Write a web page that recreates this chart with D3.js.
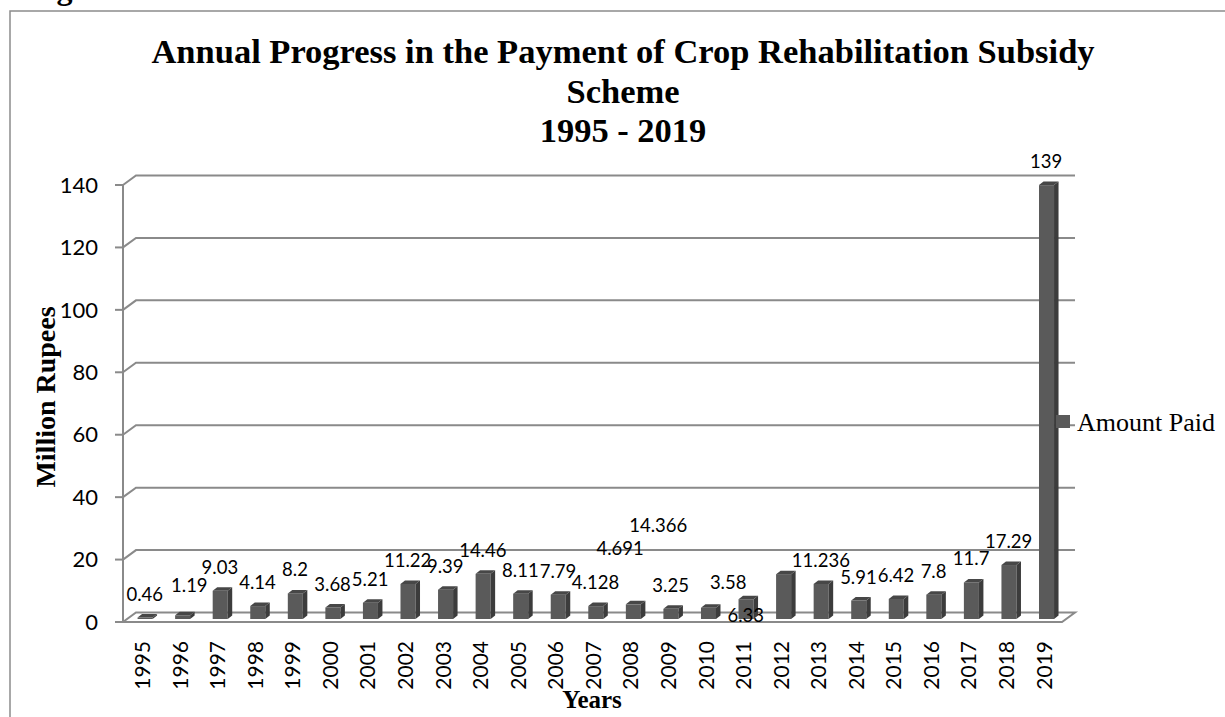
<!DOCTYPE html>
<html>
<head>
<meta charset="utf-8">
<title>Crop Rehabilitation Subsidy</title>
<script src="https://d3js.org/d3.v7.min.js"></script>
<style>
body { margin: 0; background: #fff; }
</style>
</head>
<body>
<script>

var years = ["1995","1996","1997","1998","1999","2000","2001","2002","2003","2004","2005","2006",
	"2007","2008","2009","2010","2011","2012","2013","2014","2015","2016","2017","2018","2019"];
var amounts = [0.46,1.19,9.03,4.14,8.2,3.68,5.21,11.22,9.39,14.46,8.11,7.79,
	4.128,4.691,3.25,3.58,6.33,14.366,11.236,5.91,6.42,7.8,11.7,17.29,139];
var yTicks = [0,20,40,60,80,100,120,140];
var seriesName = "Amount Paid";
var titleLines = ["Annual Progress in the Payment of Crop Rehabilitation Subsidy", "Scheme", "1995 - 2019"];

// some labels were dragged around in the original, keep them where they ended up
var labelNudge = {"1996":[7,-6], "2008":[-13,-32], "2010":[20,-2], "2011":[0,40], "2012":[-125,-25]};

var W = 1225, H = 717;
var depth = {x: 13, y: -9.5};	// back wall offset of the 3d box
var barDepth = {x: 4.5, y: -3.5};

var svg = d3.select("body").append("svg")
	.attr("width", W)
	.attr("height", H);

// outer frame, runs off the page at right and bottom
svg.append("rect")
	.attr("x", 10).attr("y", 11)
	.attr("width", 1400).attr("height", 900)
	.attr("fill", "none")
	.attr("stroke", "#8c8c8c")
	.attr("stroke-width", 1.5);

// caption above the frame, only the descender shows on the page
svg.append("text")
	.attr("x", 28).attr("y", -1)
	.attr("font-family", "Liberation Serif")
	.attr("font-weight", "bold")
	.attr("font-size", 32)
	.text("Figure");

var x = d3.scaleBand()
	.domain(years)
	.range([123, 1062]);

var y = d3.scaleLinear()
	.domain([0, 140])
	.range([622, 185]);

// title
svg.append("g").selectAll("text")
	.data(titleLines)
	.enter()
	.append("text")
	.attr("x", 623)
	.attr("y", function(d, i) { return 63 + i * 39.5; })
	.attr("text-anchor", "middle")
	.attr("font-family", "Liberation Serif")
	.attr("font-weight", "bold")
	.attr("font-size", 34.5)
	.text(function(d) { return d; });

// gridlines on back wall
var grid = svg.append("g");
grid.selectAll("path")
	.data(yTicks.filter(function(d) { return d > 0; }))
	.enter()
	.append("path")
	.attr("d", function(d) {
		var yy = y(d);
		return "M" + x.range()[0] + "," + yy + "L" + (x.range()[0] + depth.x) + "," + (yy + depth.y) +
			"H" + (x.range()[1] + depth.x);
	})
	.attr("fill", "none")
	.attr("stroke", "#8a8a8a")
	.attr("stroke-width", 2);

// floor
var x0 = x.range()[0], x1 = x.range()[1], y0 = y(0);
svg.append("path")
	.attr("d", "M" + x0 + "," + y0 + "L" + x1 + "," + y0 + "L" + (x1 + depth.x) + "," + (y0 + depth.y) +
		"L" + (x0 + depth.x) + "," + (y0 + depth.y) + "Z")
	.attr("fill", "#fff")
	.attr("stroke", "#8a8a8a")
	.attr("stroke-width", 2);

// y axis line + ticks
svg.append("line")
	.attr("x1", x0).attr("x2", x0)
	.attr("y1", y(140)).attr("y2", y0)
	.attr("stroke", "#8a8a8a")
	.attr("stroke-width", 2);

var yAxis = svg.append("g");
yAxis.selectAll("line")
	.data(yTicks)
	.enter()
	.append("line")
	.attr("x1", x0 - 8).attr("x2", x0)
	.attr("y1", function(d) { return y(d); })
	.attr("y2", function(d) { return y(d); })
	.attr("stroke", "#8a8a8a")
	.attr("stroke-width", 2);

yAxis.selectAll("text")
	.data(yTicks)
	.enter()
	.append("text")
	.attr("x", 98)
	.attr("y", function(d) { return y(d); })
	.attr("dy", "0.35em")
	.attr("text-anchor", "end")
	.attr("font-family", "Lato")
	.attr("font-size", 22)
	.attr("fill", "#000")
	.text(function(d) { return d; });

// x labels
svg.append("g").selectAll("text")
	.data(years)
	.enter()
	.append("text")
	.attr("transform", function(d) {
		return "translate(" + (x(d) + x.bandwidth() / 2 + 1) + ",641) rotate(-90)";
	})
	.attr("dy", "0.35em")
	.attr("text-anchor", "end")
	.attr("font-family", "Lato")
	.attr("font-size", 21)
	.attr("fill", "#000")
	.text(function(d) { return d; });

// bars
var bw = x.bandwidth() * 0.4;
var bars = svg.append("g").selectAll("g")
	.data(amounts)
	.enter()
	.append("g");

function barLeft(i) { return x(years[i]) + x.bandwidth() / 2 + 3.3 - bw / 2; }
var front = -3;	// bars sit a bit back from the front edge

bars.append("rect")
	.attr("x", function(d, i) { return barLeft(i); })
	.attr("y", function(d) { return y(d) + front; })
	.attr("width", bw)
	.attr("height", function(d) { return y(0) - y(d); })
	.attr("fill", "#5a5a5a");

bars.append("path")
	.attr("d", function(d, i) {
		var l = barLeft(i) + bw, t = y(d) + front, b = y(0) + front;
		return "M" + l + "," + t + "L" + (l + barDepth.x) + "," + (t + barDepth.y) +
			"L" + (l + barDepth.x) + "," + (b + barDepth.y) + "L" + l + "," + b + "Z";
	})
	.attr("fill", "#3c3c3c");

bars.append("path")
	.attr("d", function(d, i) {
		var l = barLeft(i), t = y(d) + front;
		return "M" + l + "," + t + "L" + (l + bw) + "," + t + "L" + (l + bw + barDepth.x) + "," + (t + barDepth.y) +
			"L" + (l + barDepth.x) + "," + (t + barDepth.y) + "Z";
	})
	.attr("fill", "#474747");

// data labels
svg.append("g").selectAll("text")
	.data(amounts)
	.enter()
	.append("text")
	.attr("x", function(d, i) {
		var n = labelNudge[years[i]] || [0, 0];
		return x(years[i]) + x.bandwidth() / 2 + 3 + n[0];
	})
	.attr("y", function(d, i) {
		var n = labelNudge[years[i]] || [0, 0];
		return y(d) - 20 + n[1];
	})
	.attr("text-anchor", "middle")
	.attr("font-family", "Lato")
	.attr("font-size", 18.5)
	.attr("fill", "#000")
	.text(function(d) { return d; });

// axis titles
svg.append("text")
	.attr("transform", "translate(55,397) rotate(-90)")
	.attr("text-anchor", "middle")
	.attr("font-family", "Liberation Serif")
	.attr("font-weight", "bold")
	.attr("font-size", 28)
	.text("Million Rupees");

svg.append("text")
	.attr("x", 592)
	.attr("y", 708)
	.attr("text-anchor", "middle")
	.attr("font-family", "Liberation Serif")
	.attr("font-weight", "bold")
	.attr("font-size", 25)
	.text("Years");

// legend
var legend = svg.append("g");
legend.append("rect")
	.attr("x", 1056).attr("y", 415)
	.attr("width", 14).attr("height", 13)
	.attr("fill", "#5a5a5a");
legend.append("text")
	.attr("x", 1077).attr("y", 431)
	.attr("font-family", "Liberation Serif")
	.attr("font-size", 26)
	.text(seriesName);

</script>
</body>
</html>
